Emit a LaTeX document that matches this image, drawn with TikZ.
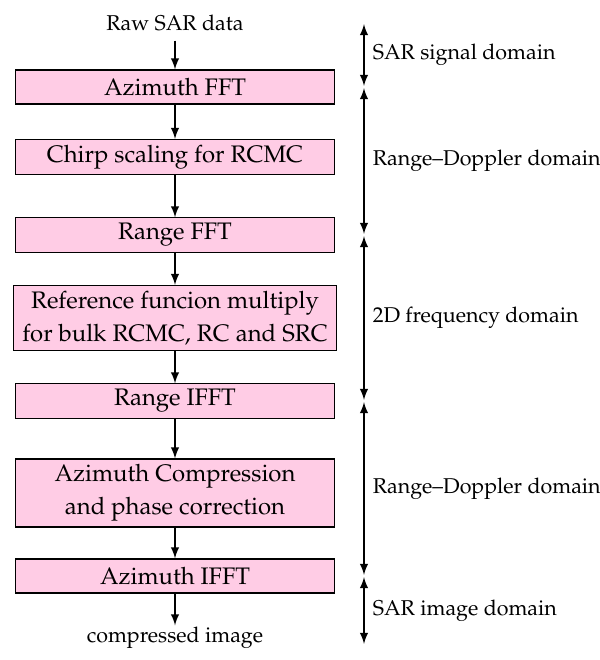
\documentclass[tikz,border=0pt]{standalone}
\usepackage[T1]{fontenc}
\usepackage{mathpazo}
\usepackage{xcolor}
\usepackage{tikz}
\definecolor{stagepink}{RGB}{255,204,229}
\newcommand{\labelsize}{\fontsize{7.8pt}{10pt}\selectfont}

\begin{document}
\begin{tikzpicture}[x=0.364pt,y=-0.364pt,>=latex,font=\fontsize{8.7pt}{12pt}\selectfont,
		stage/.style={draw,fill=stagepink,minimum width=115.8pt,minimum height=12.4pt,inner ysep=2pt,align=center},
		endtext/.style={font=\labelsize},
		domlabel/.style={right,inner xsep=3pt,font=\labelsize}]
	\useasboundingbox (0,0) rectangle (599,660);
	% processing chain
	\node[endtext] (raw) at (175,23) {Raw SAR data};
	\node[stage] (azfft) at (175,87) {Azimuth FFT};
	\node[stage] (chirp) at (175,157) {Chirp scaling for RCMC};
	\node[stage] (rgfft) at (175,235) {Range FFT};
	\node[stage] (refmul) at (175,318) {Reference funcion multiply\\for bulk RCMC, RC and SRC};
	\node[stage] (rgifft) at (175,401) {Range IFFT};
	\node[stage] (azcomp) at (175,493) {Azimuth Compression\\and phase correction};
	\node[stage] (azifft) at (175,576) {Azimuth IFFT};
	\node[endtext,inner sep=0.5pt] (img) at (175,638) {compressed image};
	\path[->]
		(raw) edge (azfft)
		(azfft) edge (chirp)
		(chirp) edge (rgfft)
		(rgfft) edge (refmul)
		(refmul) edge (rgifft)
		(rgifft) edge (azcomp)
		(azcomp) edge (azifft)
		(azifft) edge (img);
	% domains
	\coordinate (axis) at (364,0);
	\coordinate (top) at (364,23);
	\coordinate (bot) at (364,645);
	\path[<->,shorten <=0.4pt,shorten >=0.4pt]
		(top) edge node[domlabel] {SAR signal domain} (azfft -| axis)
		(azfft -| axis) edge node[domlabel] {Range--Doppler domain} (rgfft -| axis)
		(rgfft -| axis) edge node[domlabel] {2D frequency domain} (rgifft -| axis)
		(rgifft -| axis) edge node[domlabel] {Range--Doppler domain} (azifft -| axis)
		(azifft -| axis) edge node[domlabel] {SAR image domain} (bot);
\end{tikzpicture}
\end{document}
